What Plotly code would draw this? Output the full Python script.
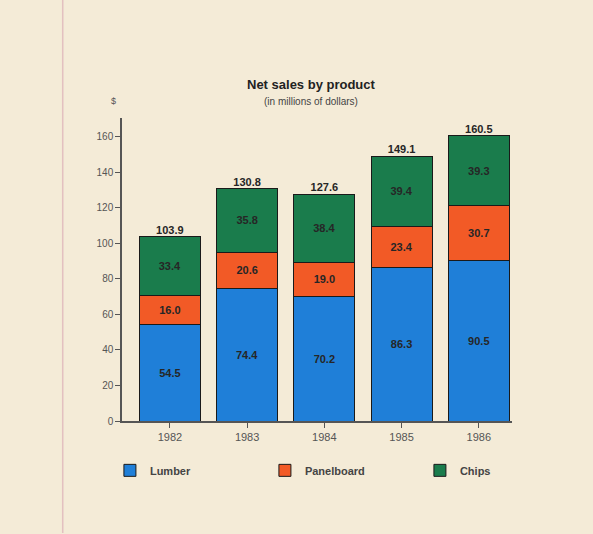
import plotly.graph_objects as go

years = ["1982", "1983", "1984", "1985", "1986"]
lumber = [54.5, 74.4, 70.2, 86.3, 90.5]
panelboard = [16.0, 20.6, 19.0, 23.4, 30.7]
chips = [33.4, 35.8, 38.4, 39.4, 39.3]
totals = [103.9, 130.8, 127.6, 149.1, 160.5]
y_ticks = [0, 20, 40, 60, 80, 100, 120, 140, 160]

FONT = "Liberation Sans, Arial, sans-serif"
BG = "#f4ebd7"

fig = go.Figure()
series = [
    ("Lumber", lumber, "#1f7fd8"),
    ("Panelboard", panelboard, "#f25a26"),
    ("Chips", chips, "#1a7c4c"),
]
for name, vals, col in series:
    fig.add_trace(go.Bar(
        x=years, y=vals, name=f"<b>{name}</b>",
        marker=dict(color=col, line=dict(color="#1a1a1a", width=1)),
        text=[f"<b>{v:.1f}</b>" for v in vals],
        textposition="inside", insidetextanchor="middle",
        textfont=dict(family=FONT, size=11, color="#262626"),
        hoverinfo="skip",
    ))

fig.add_trace(go.Scatter(
    x=years, y=totals, mode="text",
    text=[f"<b>{v:.1f}</b>" for v in totals],
    textposition="top center",
    textfont=dict(family=FONT, size=11, color="#262626"),
    showlegend=False, hoverinfo="skip", cliponaxis=False,
))

fig.update_layout(
    barmode="stack",
    bargap=0.21,
    width=593, height=534,
    paper_bgcolor=BG, plot_bgcolor=BG,
    margin=dict(l=122, r=81, t=118, b=113),
    font=dict(family=FONT, color="#444444"),
    showlegend=True,
    legend=dict(
        orientation="h", x=-0.031, y=-0.115, xanchor="left", yanchor="top",
        entrywidth=110, entrywidthmode="pixels",
        font=dict(family=FONT, size=11, color="#444444"),
        traceorder="normal", bgcolor="rgba(0,0,0,0)",
    ),
    uniformtext=dict(mode="show", minsize=10),
)

fig.update_xaxes(
    range=[-0.62, 4.43],
    showline=True, linecolor="#555555", linewidth=1.5,
    ticks="outside", ticklen=5, tickcolor="#555555",
    tickfont=dict(family=FONT, size=11, color="#555555"),
    showgrid=False, zeroline=False,
)
fig.update_yaxes(
    range=[0, 170.5],
    tickvals=y_ticks,
    showline=True, linecolor="#555555", linewidth=1.5,
    ticks="outside", ticklen=5, tickcolor="#555555",
    tickfont=dict(family=FONT, size=10, color="#555555"),
    showgrid=False, zeroline=False,
)

fig.add_annotation(
    text="<b>Net sales by product</b>", xref="paper", yref="paper",
    x=0.485, y=1.0, yshift=34, showarrow=False, xanchor="center", yanchor="middle",
    font=dict(family=FONT, size=13, color="#222222"),
)
fig.add_annotation(
    text="(in millions of dollars)", xref="paper", yref="paper",
    x=0.485, y=1.0, yshift=17, showarrow=False, xanchor="center", yanchor="middle",
    font=dict(family=FONT, size=10, color="#444444"),
)
fig.add_annotation(
    text="$", xref="paper", yref="paper",
    x=0.0, xshift=-9, y=1.0, yshift=17, showarrow=False, xanchor="center", yanchor="middle",
    font=dict(family=FONT, size=9, color="#555555"),
)
fig.add_shape(
    type="line", xref="paper", yref="paper",
    x0=-0.152, x1=-0.152, y0=-0.37, y1=1.39,
    line=dict(color="rgba(210,150,170,0.5)", width=1.5),
)

fig.write_html("out.html")
